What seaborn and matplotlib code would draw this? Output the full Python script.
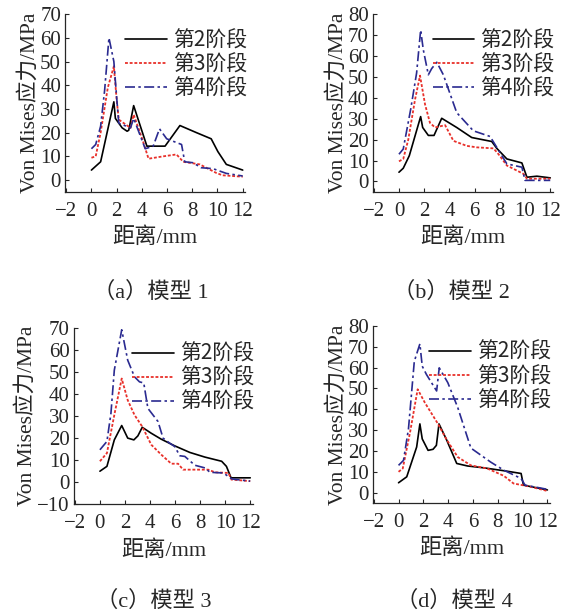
import matplotlib
matplotlib.use("Agg")
import matplotlib.pyplot as plt
import seaborn as sns

# 距离 / 应力 数据
a_x2 = [0, 0.73, 1.78, 1.9, 2.44, 2.83, 2.96, 3.35, 4.4, 5.84, 7.02, 8.33, 9.5, 10.03, 10.7, 12]
a_y2 = [4.2, 7.7, 33, 26, 22, 20.6, 21, 31.4, 14.3, 14.3, 23, 20, 17.4, 12, 6.6, 4.2]
a_x3 = [0, 0.34, 0.73, 1.3, 1.78, 2.0, 2.17, 3.1, 3.35, 4.0, 4.53, 5.7, 6.75, 7.28, 8.6, 9.9, 10.4, 12]
a_y3 = [9.4, 10, 20, 39, 48, 34, 25.5, 22, 27.6, 17.8, 9, 10, 10.8, 7.7, 6.6, 3, 2, 1.4]
a_x4 = [0, 0.34, 0.73, 1.05, 1.39, 1.78, 2.0, 2.17, 3.1, 3.35, 4.27, 4.9, 5.4, 5.97, 7.15, 7.4, 8.06, 8.7, 9.64, 10.7, 12]
a_y4 = [13.2, 15, 22.7, 38, 60, 50, 35, 24, 22, 26, 13.2, 14.3, 21.6, 17.4, 15, 7.7, 7.3, 5.2, 4.8, 2.8, 1.7]

b_x2 = [0, 0.34, 0.82, 1.72, 1.88, 2.33, 2.78, 3.39, 4.58, 5.77, 7.36, 7.76, 8.56, 9.75, 10.15, 10.94, 12]
b_y2 = [4.4, 6.3, 12.3, 31, 25.8, 22, 22, 30.2, 25.8, 21, 19.1, 15.8, 10.75, 8.85, 2, 2.5, 1.7]
b_x3 = [0, 0.34, 0.74, 1.27, 1.67, 2.07, 2.46, 2.86, 3.66, 4.32, 5.38, 6.17, 7.5, 7.9, 8.56, 9.88, 10.15, 12]
b_y3 = [9.6, 10.75, 20, 39, 50.6, 36.8, 28, 25.8, 26.9, 19.4, 17, 16.3, 15.8, 13, 7.6, 3.6, 1.3, 1.3]
b_x4 = [0, 0.34, 0.93, 1.4, 1.72, 1.93, 2.33, 2.6, 3.0, 3.52, 4.58, 5.9, 7.23, 8.56, 9.75, 10.0, 12]
b_y4 = [13, 15.5, 34.5, 51.9, 72.4, 63, 51, 54, 57, 51, 32.9, 24.2, 21.5, 8.4, 6.8, 0.5, 0.5]

c_x2 = [0, 0.56, 1.15, 1.74, 2.22, 2.71, 3.03, 3.38, 4.1, 4.9, 5.97, 7.18, 8.38, 9.72, 10.1, 10.47, 12]
c_y2 = [5, 7.2, 19.2, 25.7, 20, 19.2, 21, 24.9, 22.2, 19.5, 16.5, 13.5, 11.4, 9.5, 7.2, 2, 2]
c_x3 = [0, 0.56, 1.15, 1.74, 2.22, 2.76, 3.38, 4.1, 4.9, 5.7, 6.24, 6.64, 8.65, 9.19, 10.26, 10.5, 12]
c_y3 = [9.5, 13.2, 30.5, 47, 37.2, 30.5, 25.2, 17, 12.5, 8.4, 8.4, 5.7, 5.7, 4.5, 4.2, 1.2, 0.5]
c_x4 = [0, 0.56, 0.88, 1.15, 1.74, 2.22, 2.76, 3.16, 3.5, 3.83, 4.64, 5.04, 5.57, 5.97, 6.38, 6.78, 7.58, 8.38, 8.79, 9.86, 10.53, 12]
c_y4 = [14.7, 18.5, 31.2, 50.8, 69.1, 55.3, 47.8, 45.5, 45, 33.5, 27.5, 20, 17.7, 16.2, 12, 11.7, 7.7, 6.5, 4.5, 4.2, 1.5, 0.5]

d_x2 = [0, 0.66, 1.46, 1.72, 1.91, 2.38, 2.78, 3.05, 3.26, 3.84, 4.69, 5.56, 6.89, 8.74, 9.88, 10.07, 12]
d_y2 = [4.75, 7.6, 21.9, 33, 25.8, 20.3, 20.8, 22.7, 33, 25.8, 14, 12.8, 11.9, 10.3, 9.2, 3.6, 1.3]
d_x3 = [0, 0.34, 0.93, 1.54, 2.12, 3.18, 3.84, 4.77, 5.83, 7.15, 8.48, 9.27, 10.6, 12]
d_y3 = [10, 11.6, 29, 49.6, 43.2, 33, 25.8, 17.1, 13.1, 11.6, 8.1, 4.4, 2.9, 0.8]
d_x4 = [0, 0.4, 0.8, 1.27, 1.72, 1.91, 2.25, 3.07, 3.28, 3.97, 4.77, 5.83, 7.42, 8.48, 9.88, 10.2, 12]
d_y4 = [13.1, 15.5, 30.6, 63, 71.4, 60.7, 56.7, 48.8, 59.9, 52.8, 40.9, 21.4, 14.7, 10.8, 6.8, 3.6, 1.6]

stage_labels = ["第2阶段", "第3阶段", "第4阶段"]
captions = ["（a）模型 1", "（b）模型 2", "（c）模型 3", "（d）模型 4"]
x_ticks = [-2, 0, 2, 4, 6, 8, 10, 12]

sns.set_style("ticks")
plt.rcParams["font.family"] = ["Liberation Serif", "Noto Sans CJK SC"]
plt.rcParams["axes.unicode_minus"] = True
plt.rcParams["xtick.direction"] = "in"
plt.rcParams["ytick.direction"] = "in"

fig = plt.figure(figsize=(5.77, 6.15), dpi=100)

panels = [
    ([0.113, 0.688, 0.312, 0.289], (a_x2, a_y2), (a_x3, a_y3), (a_x4, a_y4), (-5, 70), range(0, 71, 10)),
    ([0.646, 0.688, 0.312, 0.289], (b_x2, b_y2), (b_x3, b_y3), (b_x4, b_y4), (-5, 80), range(0, 81, 10)),
    ([0.128, 0.180, 0.310, 0.287], (c_x2, c_y2), (c_x3, c_y3), (c_x4, c_y4), (-10, 70), range(-10, 71, 10)),
    ([0.646, 0.182, 0.307, 0.288], (d_x2, d_y2), (d_x3, d_y3), (d_x4, d_y4), (-5, 80), range(0, 81, 10)),
]

styles = [
    dict(color="black", linestyle="-", linewidth=1.2),
    dict(color="#e8302a", linestyle=(0, (1.6, 1.0)), linewidth=1.3),
    dict(color="#2a2a90", linestyle=(0, (6, 2, 1.5, 2)), linewidth=1.2),
]

for i, (pos, s2, s3, s4, ylim, yticks) in enumerate(panels):
    ax = fig.add_axes(pos)
    for (xs, ys), st, lab in zip([s2, s3, s4], styles, stage_labels):
        sns.lineplot(x=xs, y=ys, ax=ax, label=lab, estimator=None, sort=False, **st)

    ax.set_xlim(-2.08, 12.2)
    ax.set_ylim(*ylim)
    ax.set_xticks(x_ticks)
    ax.set_yticks(list(yticks))
    ax.tick_params(labelsize=15, length=3, width=0.8)
    ax.tick_params(axis="x", pad=7)
    ax.tick_params(axis="y", pad=3)
    sns.despine(ax=ax)
    for sp in ["left", "bottom"]:
        ax.spines[sp].set_linewidth(0.9)

    ax.set_xlabel("距离/mm", fontsize=16, labelpad=5)
    ax.set_ylabel("Von Mises应力/MPa", fontsize=15.5, labelpad=0)

    leg = ax.legend(
        loc="upper right",
        bbox_to_anchor=(1.08, 0.985),
        frameon=False,
        fontsize=15,
        handlelength=2.0,
        handletextpad=0.3,
        labelspacing=0.1,
        borderaxespad=0.2,
    )
    for t in leg.get_texts():
        t.set_family(["Noto Sans CJK SC", "DejaVu Sans"])

cap_pos = [(0.262, 0.524), (0.783, 0.524), (0.267, 0.023), (0.787, 0.023)]
for (cx, cy), cap in zip(cap_pos, captions):
    fig.text(cx, cy, cap, ha="center", va="center", fontsize=16)

fig.savefig("out.png", dpi=100)
